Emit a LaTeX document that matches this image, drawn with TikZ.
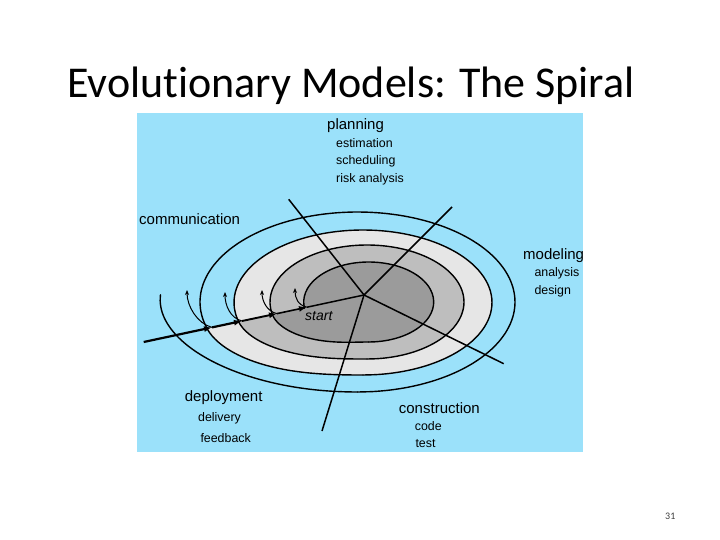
\documentclass[tikz,border=0pt]{standalone}
\usepackage{fontspec}
\setmainfont{Liberation Sans}
\newfontfamily\titlefont[Ligatures=NoCommon]{Carlito}
\usetikzlibrary{arrows.meta}
\definecolor{skyb}{RGB}{155,225,250}
\definecolor{ringdark}{RGB}{155,155,155}
\definecolor{ringmid}{RGB}{190,190,190}
\definecolor{ringlight}{RGB}{230,230,230}
\tikzset{
  spiralline/.style={line width=1.4pt, black, line cap=round, line join=round},
  radial/.style={line width=1.5pt, black},
  axisline/.style={line width=2.2pt, black, -{Latex[length=8pt,width=6pt]}},
  hookarrow/.style={line width=1pt, black, -{Stealth[length=5pt,width=4pt]}},
  head/.style={font=\fontsize{15}{18}\selectfont, inner sep=0pt, anchor=base west},
  sub/.style={font=\fontsize{12.4}{15}\selectfont, inner sep=0pt, anchor=base west},
}
% elliptic arc of the spiral: cx, cy, rx, ry, from, to
\newcommand\arcdraw[6]{\draw[spiralline] plot[domain=#5:#6,samples=50,smooth,variable=\pa]({#1+#3*cos(\pa)},{#2+#4*sin(\pa)});}
\newcommand\arcfill[7]{\fill[#7] (c) -- plot[domain=#5:#6,samples=50,smooth,variable=\pa]({#1+#3*cos(\pa)},{#2+#4*sin(\pa)}) -- cycle;}
% transition from the bottom of turn A (angle 450) to turn B at angle #9
\newcommand\transdraw[9]{\draw[spiralline] plot[domain=0:1,samples=30,smooth,variable=\pb]({#1+(#5-#1)*(3*\pb*\pb-2*\pb*\pb*\pb)+(#3+(#7-#3)*(3*\pb*\pb-2*\pb*\pb*\pb))*cos(450+(#9-450)*\pb)},{#2+(#6-#2)*(3*\pb*\pb-2*\pb*\pb*\pb)+(#4+(#8-#4)*(3*\pb*\pb-2*\pb*\pb*\pb))*sin(450+(#9-450)*\pb)});}
\newcommand\transfill[9]{\fill[ringfill] (c) -- plot[domain=0:1,samples=30,smooth,variable=\pb]({#1+(#5-#1)*(3*\pb*\pb-2*\pb*\pb*\pb)+(#3+(#7-#3)*(3*\pb*\pb-2*\pb*\pb*\pb))*cos(450+(#9-450)*\pb)},{#2+(#6-#2)*(3*\pb*\pb-2*\pb*\pb*\pb)+(#4+(#8-#4)*(3*\pb*\pb-2*\pb*\pb*\pb))*sin(450+(#9-450)*\pb)}) -- cycle;}
\begin{document}
\begin{tikzpicture}[x=1pt,y=-1pt]
\useasboundingbox (0,0) rectangle (720,540);
\fill[white] (0,0) rectangle (720,540);
\node[font=\titlefont\fontsize{44}{50}\selectfont, inner sep=0pt, anchor=base west] (title) at (67,98) {Evolutionary Models: The Spiral};
\fill[skyb] (137,113) rectangle (583,452);
\coordinate (c) at (364,295);
% fills
\colorlet{ringfill}{ringlight}
\arcfill{363}{302.5}{129}{72.5}{164.5}{455}{ringlight}
\transfill{363}{302.5}{129}{72.5}{357.5}{302}{157.5}{90}{523}
\colorlet{ringfill}{ringmid}
\arcfill{367}{302}{97}{57}{167}{455}{ringmid}
\transfill{367}{302}{97}{57}{363}{302.5}{129}{72.5}{524.5}
\colorlet{ringfill}{ringdark}
\arcfill{368.7}{302}{65}{40}{171}{455}{ringdark}
\transfill{368.7}{302}{65}{40}{367}{302}{97}{57}{527}
% spiral lines
\arcdraw{368.7}{302}{65}{40}{171}{450}
\transdraw{368.7}{302}{65}{40}{367}{302}{97}{57}{527}
\arcdraw{367}{302}{97}{57}{167}{450}
\transdraw{367}{302}{97}{57}{363}{302.5}{129}{72.5}{524.5}
\arcdraw{363}{302.5}{129}{72.5}{164.5}{450}
\transdraw{363}{302.5}{129}{72.5}{357.5}{302}{157.5}{90}{523}
\arcdraw{357.5}{302}{157.5}{90}{163}{450}
\transdraw{357.5}{302}{157.5}{90}{358}{302}{198}{105}{544}
% radial lines
\coordinate (r1) at (288.7,199.3);
\coordinate (r2) at (452,207);
\coordinate (r3) at (503.7,363.7);
\coordinate (r4) at (322,431);
\draw[radial] (r1) -- (c);
\draw[radial] (r2) -- (c);
\draw[radial] (c) -- (r3);
\draw[radial] (c) -- (r4);
% axis
\coordinate (p0) at (143.7,342);
\coordinate (a1) at (212,327.4);
\coordinate (a2) at (242,321.0);
\coordinate (a3) at (277,313.6);
\coordinate (a4) at (307,307.2);
\draw[axisline] (p0) -- (a1);
\draw[axisline] (a1) -- (a2);
\draw[axisline, line width=1.9pt] (a2) -- (a3);
\draw[axisline, line width=1.6pt] (a3) -- (a4);
\draw[line width=1.5pt] (a4) -- (c);
% hooks
\coordinate (h1) at (187,290);
\coordinate (h2) at (225,292);
\coordinate (h3) at (262,290);
\coordinate (h4) at (295,288);
\draw[hookarrow] (a1) .. controls +(-15,-4) and +(0,16) .. (h1);
\draw[hookarrow] (a2) .. controls +(-12,-3) and +(0,13) .. (h2);
\draw[hookarrow] (a3) .. controls +(-10,-2) and +(0,11) .. (h3);
\draw[hookarrow] (a4) .. controls +(-9,-2) and +(0,10) .. (h4);
% labels
\node[head] (planning) at (327,129.4) {planning};
\node[sub] (estimation) at (336,148) {estimation};
\node[sub] (scheduling) at (336,164.2) {scheduling};
\node[sub] (risk) at (336,182.6) {risk analysis};
\node[head] (communication) at (139,225) {communication};
\node[head] (modeling) at (523,259.4) {modeling};
\node[sub] (analysis) at (534.3,276.9) {analysis};
\node[sub] (design) at (534.3,294.2) {design};
\node[font=\fontsize{14}{16}\selectfont\itshape, inner sep=0pt, anchor=base west] (start) at (305,320) {start};
\node[head] (deployment) at (184.7,401) {deployment};
\node[sub] (delivery) at (198,421) {delivery};
\node[sub] (feedback) at (200.3,442) {feedback};
\node[head] (construction) at (398.7,413.5) {construction};
\node[sub] (code) at (414.7,430) {code};
\node[sub] (test) at (415.3,447) {test};
\node[font=\titlefont\fontsize{10}{12}\selectfont, text=black!75, inner sep=0pt, anchor=base west] (pagenum) at (665,519) {31};
\end{tikzpicture}
\end{document}
